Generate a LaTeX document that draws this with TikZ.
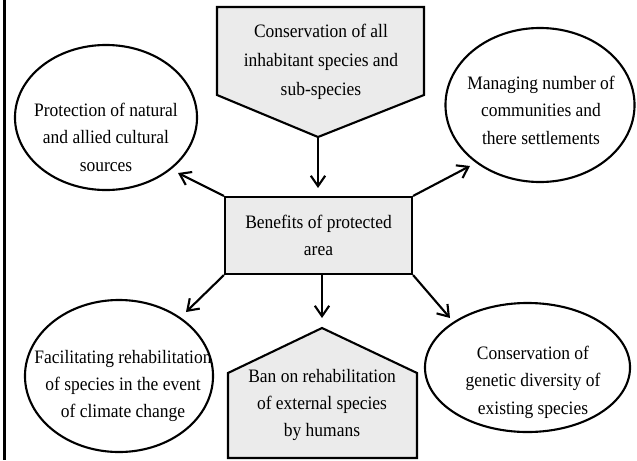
\documentclass[tikz,border=0pt]{standalone}
\usepackage{fontspec}
\setmainfont[FakeStretch=0.92]{Liberation Serif}
\usepackage{tikz}
\usetikzlibrary{arrows.meta, positioning, shapes}
\definecolor{BoxGray}{RGB}{235, 235, 235}

\begin{document}
\begin{tikzpicture}[x=0.025cm, y=-0.025cm, font=\fontsize{13.5}{19.5}\selectfont, el/.style={draw, ellipse, line width=1.5pt, inner sep=0pt}, bx/.style={draw, fill=BoxGray, line width=1.5pt}, tx/.style={align=center, inner sep=0pt}, ar/.style={-{Straight Barb[length=2.6mm, width=3.6mm]}, line width=1.5pt}]
\useasboundingbox (0,0) rectangle (637,460);
\draw[line width=1.5pt] (4.5,0) -- (4.5,460);
% centre box
\node[bx, minimum width=4.675cm, minimum height=1.925cm, align=center] (ben) at (318.5,235.5) {Benefits of protected\\area};
% top and bottom pentagons
\draw[bx] (217,7) -- (424,7) -- (424,95) -- (318,137) -- (217,95) -- cycle;
\node[tx, font=\fontsize{13.5}{20.5}\selectfont] (cons) at (321,62) {Conservation of all\\inhabitant species and\\sub-species};
\draw[bx] (228,458) -- (228,373) -- (322,328) -- (417,373) -- (417,458) -- cycle;
\node[tx] (ban) at (322,405) {Ban on rehabilitation\\of external species\\by humans};
% ellipses
\node[el, minimum width=4.55cm, minimum height=3.625cm] (nat) at (106,117.5) {};
\node[tx] (nat-t) at (106,137) {Protection of natural\\and allied cultural\\sources};
\node[el, minimum width=4.725cm, minimum height=3.85cm] (com) at (540,105) {};
\node[tx] (com-t) at (541,110) {Managing number of\\communities and\\there settlements};
\node[el, minimum width=4.7cm, minimum height=3.8cm] (fac) at (119,376) {};
\node[tx] (fac-t) at (123,386) {Facilitating rehabilitation\\of species in the event\\of climate change};
\node[el, minimum width=5.125cm, minimum height=3.225cm] (gen) at (527.5,367.5) {};
\node[tx] (gen-t) at (533,382) {Conservation of\\genetic diversity of\\existing species};
% arrow ends
\coordinate (ctip) at (318,137);
\coordinate (a0) at (318,188);
\coordinate (a1) at (178,173);
\coordinate (a2) at (470,166);
\coordinate (a3) at (186,312);
\coordinate (a4) at (322,318);
\coordinate (a5) at (450,318);
\draw[ar] (ctip) -- (a0); \draw[ar] (ben.north west) -- (a1); \draw[ar] (ben.north east) -- (a2);
\draw[ar] (ben.south west) -- (a3); \draw[ar] (a4 |- ben.south) -- (a4); \draw[ar] (ben.south east) -- (a5);
\end{tikzpicture}
\end{document}
